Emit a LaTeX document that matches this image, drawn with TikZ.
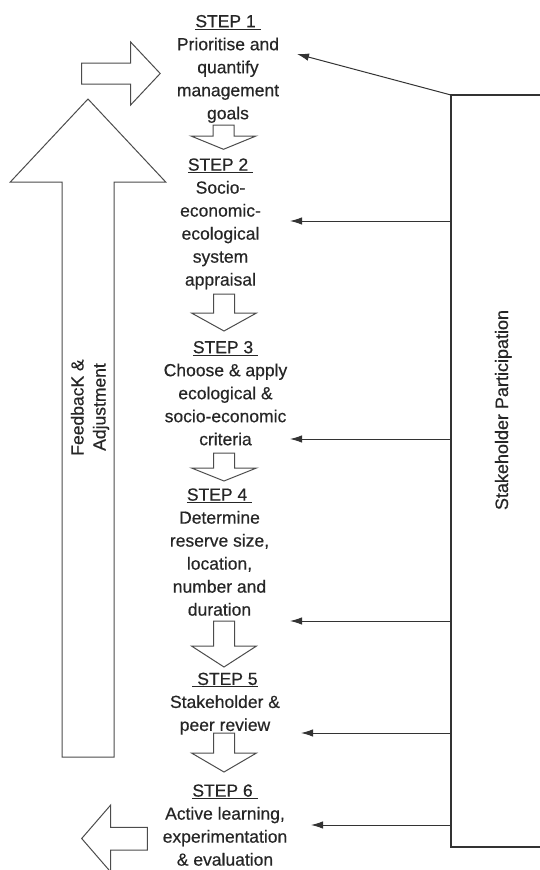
\documentclass[tikz,border=0pt]{standalone}
\usepackage{fontspec}
\setmainfont{Liberation Sans}[FakeBold=0.5]
\usetikzlibrary{arrows.meta}

% outlined block arrow pointing down: top of shaft, base of head, tip
\newcommand\blockdown[4][224]{%
  \draw[block] (#1-10.5,#2) -- (#1+10.5,#2) -- (#1+10.5,#3) -- (#1+32.5,#3)
    -- (#1,#4) -- (#1-32.5,#3) -- (#1-10.5,#3) -- cycle;}

\begin{document}
\begin{tikzpicture}[x=1pt,y=-1pt,
  stepnode/.style={font=\fontsize{17.5}{23}\selectfont, align=center,
    inner sep=0pt, anchor=north, text=black!85},
  sidetext/.style={font=\fontsize{17.5}{23}\selectfont, inner sep=0pt,
    anchor=base, rotate=90, text=black!85},
  block/.style={draw=black!70, line width=1pt, fill=white, line join=miter},
  frame/.style={draw=black!80, line width=1.1pt},
  feed/.style={draw=black!80, line width=1pt, -{Latex[length=12pt,width=7.5pt]}}]
\useasboundingbox (0,0) rectangle (539,870);

% the six steps
\node[stepnode] (s1) at (228,14.8)
  {\underline{STEP 1\ }\\Prioritise and\\quantify\\management\\goals};
\node[stepnode] (s2) at (220.5,158.2)
  {\underline{STEP 2\ }\\Socio-\\economic-\\ecological\\system\\appraisal};
\node[stepnode] (s3) at (225.5,340.8)
  {\underline{STEP 3\ }\\Choose \& apply\\ecological \&\\socio-economic\\criteria};
\node[stepnode] (s4) at (219.5,488.2)
  {\underline{STEP 4\ }\\Determine\\reserve size,\\location,\\number and\\duration};
\node[stepnode] (s5) at (225,672.5)
  {\underline{\ STEP 5}\\Stakeholder \&\\peer review};
\node[stepnode] (s6) at (225,784.2)
  {\underline{STEP 6\ }\\Active learning,\\experimentation\\\& evaluation};

% block arrows between consecutive steps
\blockdown[223.5]{125}{136}{149.3}
\blockdown{294}{313}{331}
\blockdown{453}{468}{481}
\blockdown{621}{646}{667}
\blockdown{733}{753}{772}

% feedback loop: big upward arrow, entry into step 1, exit from step 6
\draw[block] (62,757) -- (62,182) -- (10.3,182) -- (88,99) -- (165.7,182)
  -- (114,182) -- (114,757) -- cycle;
\draw[block] (81.5,63) -- (130.6,63) -- (130.6,42) -- (160.2,73.5)
  -- (130.6,105) -- (130.6,84) -- (81.5,84) -- cycle;
\draw[block] (147.3,827.3) -- (110.7,827.3) -- (110.7,805) -- (81.7,838.5)
  -- (110.7,872) -- (110.7,850) -- (147.3,850) -- cycle;
\node[sidetext] (fb1) at (83.5,407.5) {FeedbacK \&};
\node[sidetext] (fb2) at (105.5,407) {Adjustment};

% stakeholder participation panel
\coordinate (sptop) at (545,95);
\coordinate (spbot) at (545,847);
\draw[frame] (sptop) -| (451,847) -- (spbot);
\node[sidetext, font=\fontsize{18}{23}\selectfont] (sp) at (508,410)
  {Stakeholder Participation};

% participation feeding into each step
\coordinate (b1) at (451,95);   \coordinate (t1) at (297,54);
\coordinate (b2) at (451,221);  \coordinate (t2) at (290,221);
\coordinate (b3) at (451,439);  \coordinate (t3) at (290,439);
\coordinate (b4) at (451,621);  \coordinate (t4) at (290,621);
\coordinate (b5) at (451,733);  \coordinate (t5) at (301,733);
\coordinate (b6) at (451,825);  \coordinate (t6) at (311,825);
\foreach \i in {1,...,6} \draw[feed] (b\i) -- (t\i);
\end{tikzpicture}
\end{document}
